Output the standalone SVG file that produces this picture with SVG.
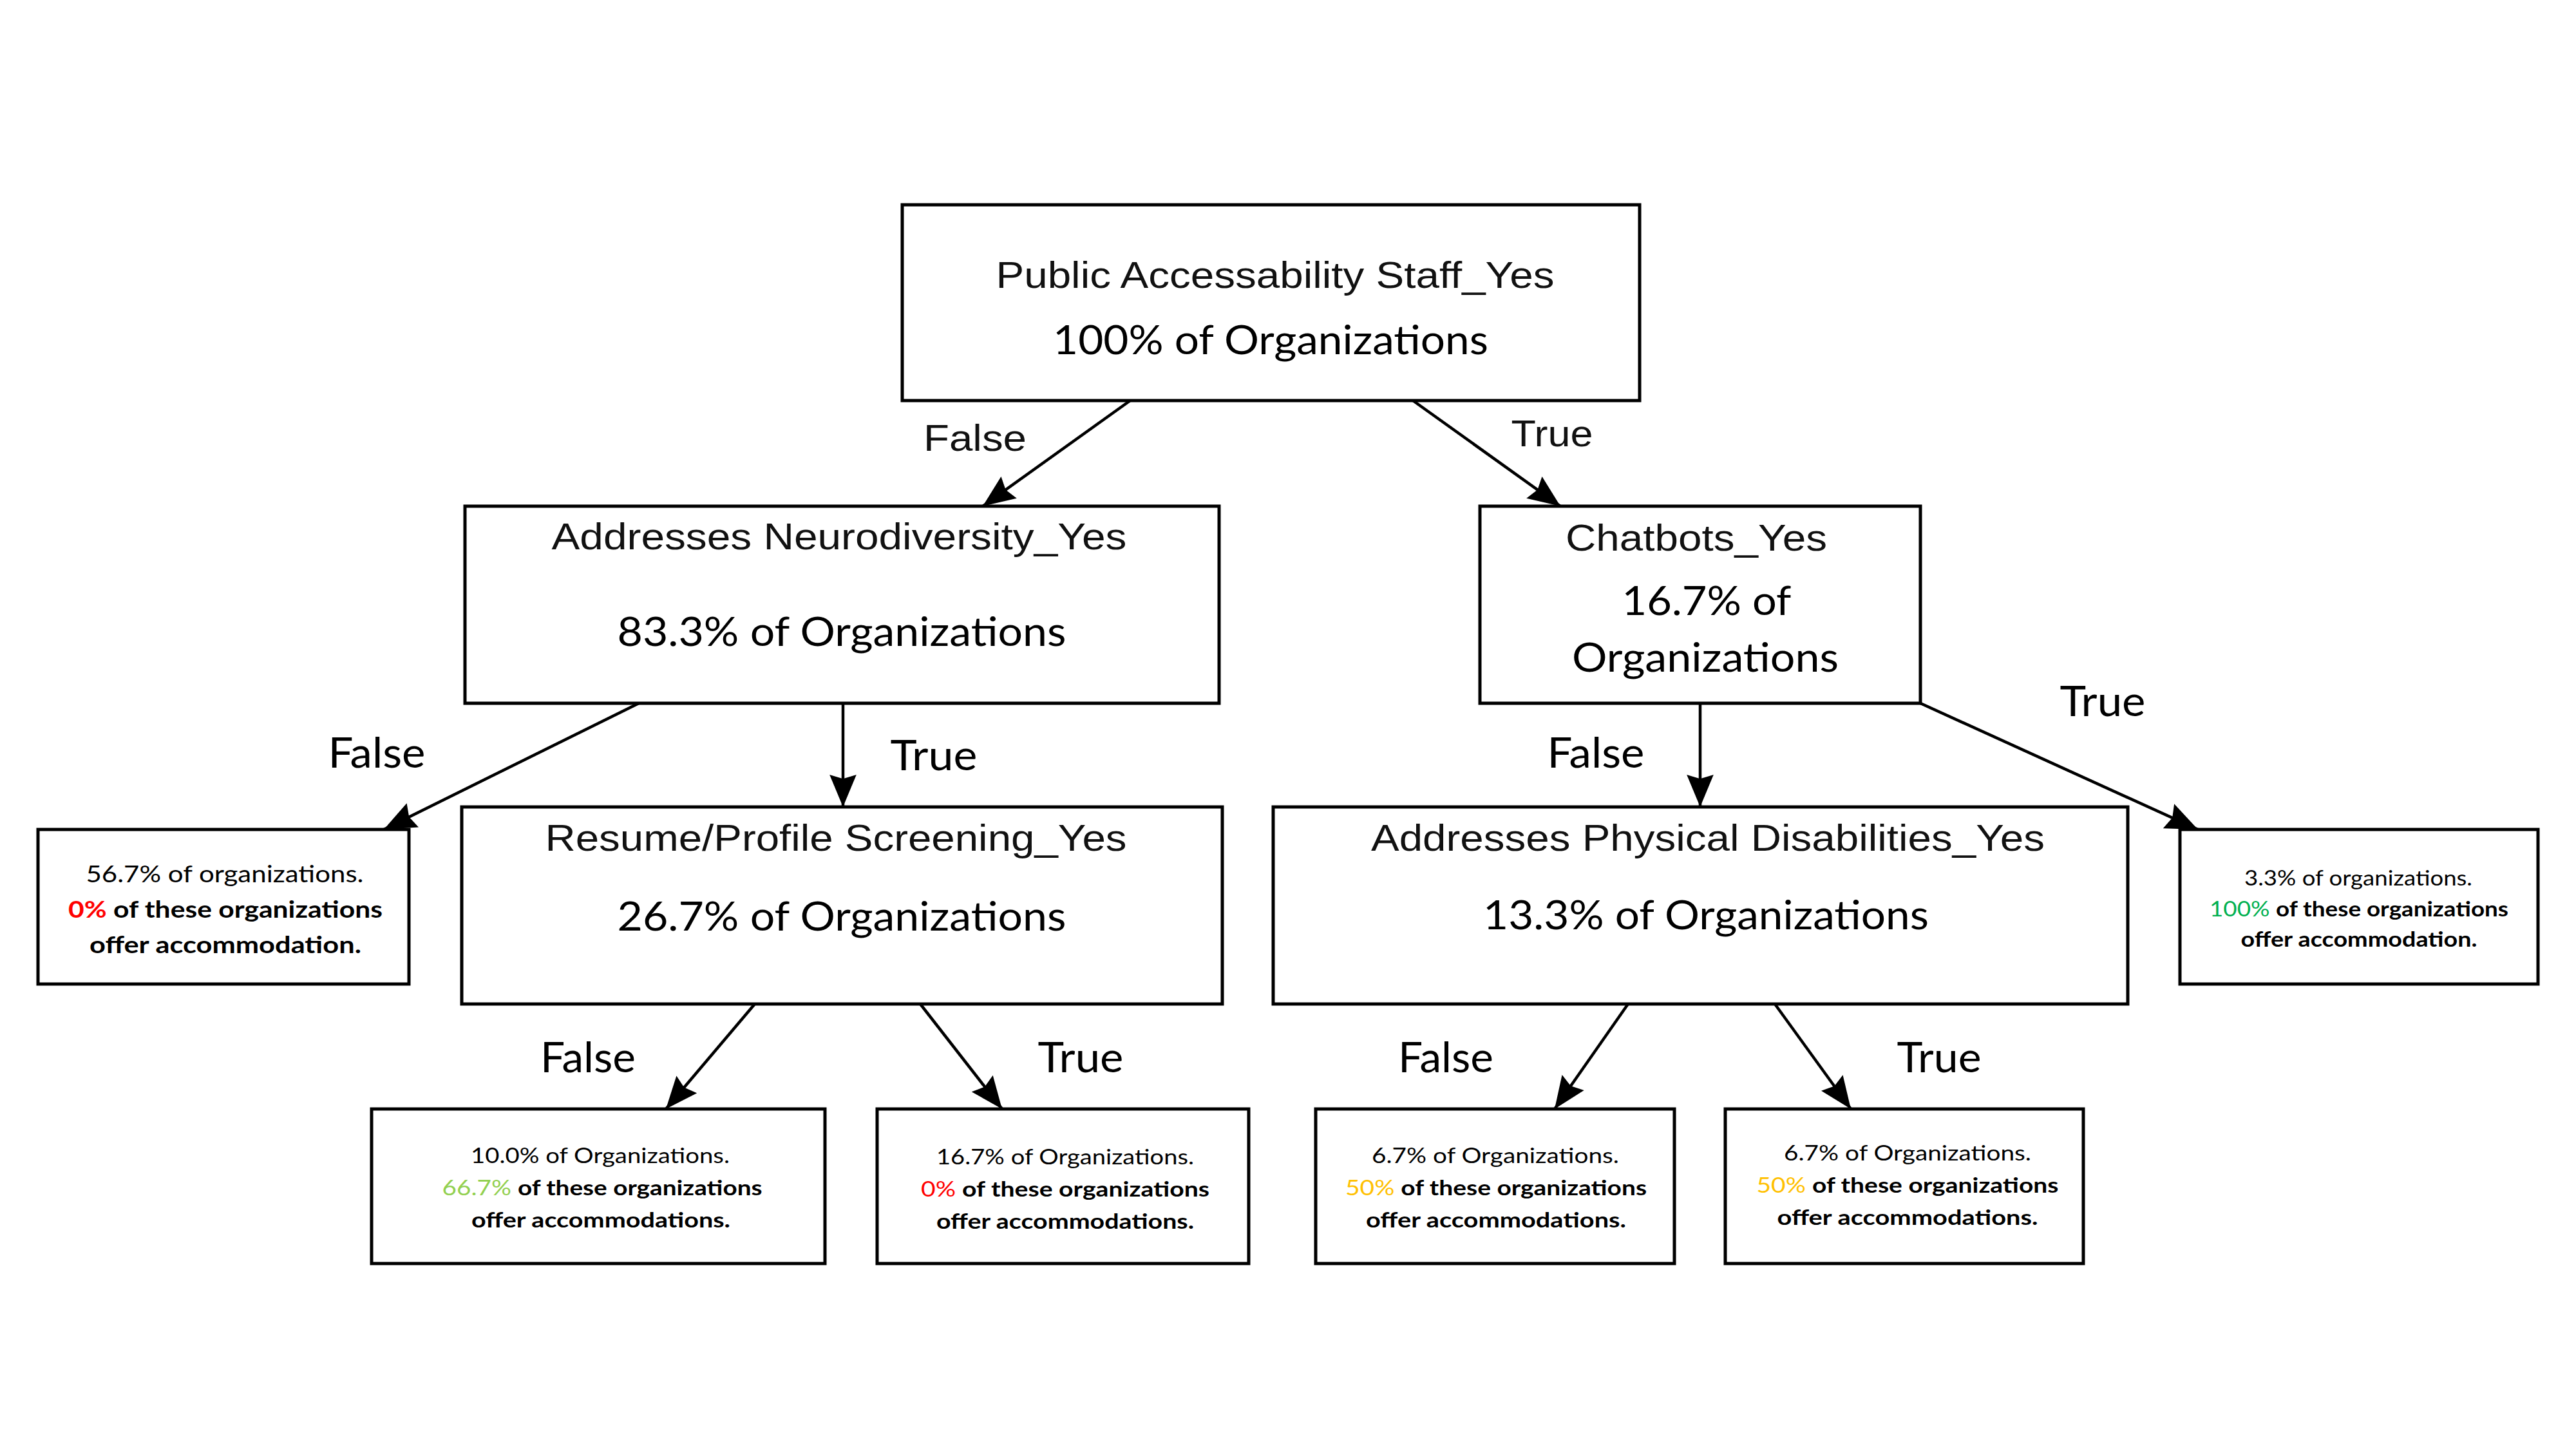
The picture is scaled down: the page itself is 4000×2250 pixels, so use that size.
<svg xmlns="http://www.w3.org/2000/svg" width="4000" height="2250" viewBox="0 0 4000 2250">
<style>
.box{fill:#fff;stroke:#000;stroke-width:5}
.edge{fill:none;stroke:#000;stroke-width:4.5}
.ar{font-family:"Liberation Sans",Arial,sans-serif;font-size:58px;fill:#111;text-anchor:middle}
.ca{font-family:Lato,"Open Sans",sans-serif;font-size:62px;fill:#000;text-anchor:middle}
.lbl{font-family:Lato,"Open Sans",sans-serif;font-size:65px;fill:#000;text-anchor:middle}
.lf{font-family:Lato,"Open Sans",sans-serif;font-size:36px;fill:#000;text-anchor:middle}
.sm{font-family:Lato,"Open Sans",sans-serif;font-size:33px;fill:#000;text-anchor:middle}
.b{font-weight:bold}
</style>
<defs>
<marker id="arr" viewBox="0 0 12 10" refX="12" refY="5" markerWidth="50" markerHeight="42" markerUnits="userSpaceOnUse" orient="auto">
<path d="M0,0 L12,5 L0,10 L1.5,5 z" fill="#000"/>
</marker>
</defs>
<rect width="4000" height="2250" fill="#fff"/>
<g id="connectors">
<line class="edge" x1="1755" y1="622" x2="1526" y2="786" marker-end="url(#arr)"/>
<line class="edge" x1="2194" y1="622" x2="2423" y2="786" marker-end="url(#arr)"/>
<line class="edge" x1="992" y1="1092" x2="596" y2="1288" marker-end="url(#arr)"/>
<line class="edge" x1="1309" y1="1092" x2="1309" y2="1253" marker-end="url(#arr)"/>
<line class="edge" x1="2640" y1="1092" x2="2640" y2="1253" marker-end="url(#arr)"/>
<line class="edge" x1="2982" y1="1092" x2="3413" y2="1288" marker-end="url(#arr)"/>
<line class="edge" x1="1172" y1="1559" x2="1034" y2="1722" marker-end="url(#arr)"/>
<line class="edge" x1="1429" y1="1559" x2="1556" y2="1722" marker-end="url(#arr)"/>
<line class="edge" x1="2528" y1="1559" x2="2414" y2="1722" marker-end="url(#arr)"/>
<line class="edge" x1="2756" y1="1559" x2="2874" y2="1722" marker-end="url(#arr)"/>
<text class="ar" x="1514" y="700" textLength="160" lengthAdjust="spacingAndGlyphs">False</text>
<text class="ar" x="2410" y="693" textLength="127" lengthAdjust="spacingAndGlyphs">True</text>
<text class="lbl" x="585" y="1192" textLength="151" lengthAdjust="spacingAndGlyphs">False</text>
<text class="lbl" x="1450" y="1196" textLength="135" lengthAdjust="spacingAndGlyphs">True</text>
<text class="lbl" x="2478" y="1192" textLength="151" lengthAdjust="spacingAndGlyphs">False</text>
<text class="lbl" x="3265" y="1112" textLength="133" lengthAdjust="spacingAndGlyphs">True</text>
<text class="lbl" x="913" y="1665" textLength="148" lengthAdjust="spacingAndGlyphs">False</text>
<text class="lbl" x="1678" y="1665" textLength="133" lengthAdjust="spacingAndGlyphs">True</text>
<text class="lbl" x="2245" y="1665" textLength="148" lengthAdjust="spacingAndGlyphs">False</text>
<text class="lbl" x="3011" y="1665" textLength="131" lengthAdjust="spacingAndGlyphs">True</text>
</g>
<g id="root">
<rect class="box" x="1401" y="318" width="1145" height="304"/>
<text class="ar" x="1980" y="447" textLength="867" lengthAdjust="spacingAndGlyphs">Public Accessability Staff_Yes</text>
<text class="ca" x="1973" y="550" textLength="676" lengthAdjust="spacingAndGlyphs">100% of Organizations</text>
</g>
<g id="neurodiversity">
<rect class="box" x="722" y="786" width="1171" height="306"/>
<text class="ar" x="1303" y="853" textLength="893" lengthAdjust="spacingAndGlyphs">Addresses Neurodiversity_Yes</text>
<text class="ca" x="1307" y="1003" textLength="697" lengthAdjust="spacingAndGlyphs">83.3% of Organizations</text>
</g>
<g id="chatbots">
<rect class="box" x="2298" y="786" width="684" height="306"/>
<text class="ar" x="2634" y="855" textLength="406" lengthAdjust="spacingAndGlyphs">Chatbots_Yes</text>
<text class="ca" x="2650" y="955" textLength="263" lengthAdjust="spacingAndGlyphs">16.7% of</text>
<text class="ca" x="2648" y="1043" textLength="414" lengthAdjust="spacingAndGlyphs">Organizations</text>
</g>
<g id="resume">
<rect class="box" x="717" y="1253" width="1181" height="306"/>
<text class="ar" x="1298" y="1321" textLength="903" lengthAdjust="spacingAndGlyphs">Resume/Profile Screening_Yes</text>
<text class="ca" x="1307" y="1445" textLength="697" lengthAdjust="spacingAndGlyphs">26.7% of Organizations</text>
</g>
<g id="physical">
<rect class="box" x="1977" y="1253" width="1327" height="306"/>
<text class="ar" x="2652" y="1321" textLength="1046" lengthAdjust="spacingAndGlyphs">Addresses Physical Disabilities_Yes</text>
<text class="ca" x="2649" y="1443" textLength="692" lengthAdjust="spacingAndGlyphs">13.3% of Organizations</text>
</g>
<g id="leaf-56">
<rect class="box" x="59" y="1288" width="576" height="240"/>
<text class="lf" x="349" y="1370" textLength="431" lengthAdjust="spacingAndGlyphs">56.7% of organizations.</text>
<text class="lf b" x="350" y="1425" textLength="488" lengthAdjust="spacingAndGlyphs"><tspan fill="#FF0000">0%</tspan> of these organizations</text>
<text class="lf b" x="350" y="1480" textLength="422" lengthAdjust="spacingAndGlyphs">offer accommodation.</text>
</g>
<g id="leaf-3">
<rect class="box" x="3385" y="1288" width="556" height="240"/>
<text class="sm" x="3662" y="1375" textLength="354" lengthAdjust="spacingAndGlyphs">3.3% of organizations.</text>
<text class="sm" x="3663" y="1423" textLength="464" lengthAdjust="spacingAndGlyphs"><tspan fill="#00B050">100%</tspan> <tspan class="b">of these organizations</tspan></text>
<text class="sm b" x="3663" y="1470" textLength="367" lengthAdjust="spacingAndGlyphs">offer accommodation.</text>
</g>
<g id="leaf-10">
<rect class="box" x="577" y="1722" width="704" height="240"/>
<text class="sm" x="932" y="1806" textLength="402" lengthAdjust="spacingAndGlyphs">10.0% of Organizations.</text>
<text class="sm" x="935" y="1856" textLength="497" lengthAdjust="spacingAndGlyphs"><tspan fill="#92D050">66.7%</tspan> <tspan class="b">of these organizations</tspan></text>
<text class="sm b" x="933" y="1906" textLength="402" lengthAdjust="spacingAndGlyphs">offer accommodations.</text>
</g>
<g id="leaf-16">
<rect class="box" x="1362" y="1722" width="577" height="240"/>
<text class="sm" x="1654" y="1808" textLength="400" lengthAdjust="spacingAndGlyphs">16.7% of Organizations.</text>
<text class="sm" x="1654" y="1858" textLength="448" lengthAdjust="spacingAndGlyphs"><tspan fill="#FF0000">0%</tspan> <tspan class="b">of these organizations</tspan></text>
<text class="sm b" x="1654" y="1908" textLength="400" lengthAdjust="spacingAndGlyphs">offer accommodations.</text>
</g>
<g id="leaf-6a">
<rect class="box" x="2043" y="1722" width="557" height="240"/>
<text class="sm" x="2322" y="1806" textLength="384" lengthAdjust="spacingAndGlyphs">6.7% of Organizations.</text>
<text class="sm" x="2323" y="1856" textLength="468" lengthAdjust="spacingAndGlyphs"><tspan fill="#FFC000">50%</tspan> <tspan class="b">of these organizations</tspan></text>
<text class="sm b" x="2323" y="1906" textLength="404" lengthAdjust="spacingAndGlyphs">offer accommodations.</text>
</g>
<g id="leaf-6b">
<rect class="box" x="2679" y="1722" width="556" height="240"/>
<text class="sm" x="2962" y="1802" textLength="384" lengthAdjust="spacingAndGlyphs">6.7% of Organizations.</text>
<text class="sm" x="2962" y="1852" textLength="469" lengthAdjust="spacingAndGlyphs"><tspan fill="#FFC000">50%</tspan> <tspan class="b">of these organizations</tspan></text>
<text class="sm b" x="2962" y="1902" textLength="405" lengthAdjust="spacingAndGlyphs">offer accommodations.</text>
</g>
</svg>
